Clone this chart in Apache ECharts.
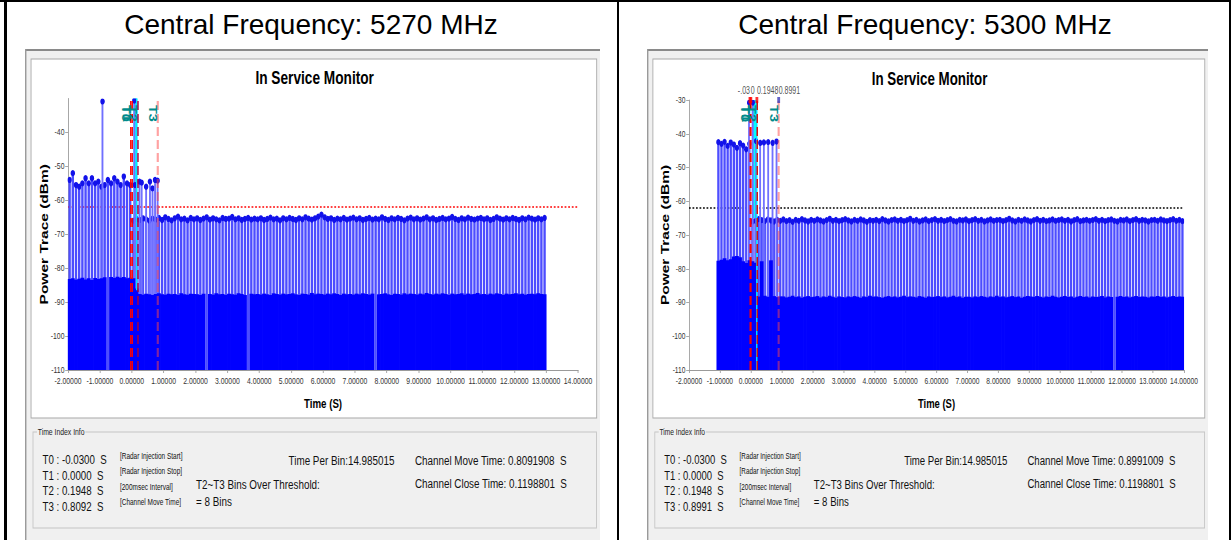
<!DOCTYPE html>
<html><head><meta charset="utf-8">
<script src="https://cdn.jsdelivr.net/npm/echarts@6/dist/echarts.min.js"></script>
<style>
html,body{margin:0;padding:0;background:#fff;}
#page{position:relative;width:1231px;height:540px;overflow:hidden;background:#fff;font-family:'Liberation Sans',Arial,sans-serif;}
.bk{position:absolute;background:#000;}
.hdr{position:absolute;top:11px;height:28px;line-height:28px;font-size:28px;text-align:center;color:#000;white-space:nowrap;}
.pwrap{position:absolute;top:49px;height:491px;overflow:hidden;}
.pc{position:absolute;left:0;top:0;width:799px;height:491px;transform-origin:0 0;}
</style></head><body>
<div id="page">
 <div class="bk" style="left:0;top:0;width:1231px;height:2px"></div>
 <div class="bk" style="left:4px;top:0;width:3px;height:540px"></div>
 <div class="bk" style="left:617px;top:0;width:2px;height:540px"></div>
 <div class="bk" style="left:1229px;top:0;width:2px;height:540px"></div>
 <div class="hdr" id="h1" style="left:4px;width:614px"></div>
 <div class="hdr" id="h2" style="left:619px;width:612px"></div>
 <div class="pwrap" style="left:25px;width:575px"><div class="pc" id="c1" style="transform:scaleX(0.71965)"></div></div>
 <div class="pwrap" style="left:647px;width:561px"><div class="pc" id="c2" style="transform:scaleX(0.70213)"></div></div>
</div>
<script>
// ---------------- texts ----------------
const panelTitles = ['Central Frequency: 5270 MHz', 'Central Frequency: 5300 MHz'];
const chartTitle = 'In Service Monitor';
const xAxisName = 'Time (S)';
const yAxisName = 'Power Trace (dBm)';
const groupTitle = 'Time Index Info';
const tNames = ['T0', 'T1', 'T2', 'T3'];
const tNotes = ['[Radar Injection Start]', '[Radar Injection Stop]', '[200msec Interval]', '[Channel Move Time]'];
const leftTRows = ['T0 : -0.0300  S', 'T1 : 0.0000  S', 'T2 : 0.1948  S', 'T3 : 0.8092  S'];
const rightTRows = ['T0 : -0.0300  S', 'T1 : 0.0000  S', 'T2 : 0.1948  S', 'T3 : 0.8991  S'];
const leftSummary = ['Time Per Bin:14.985015', 'Channel Move Time: 0.8091908  S', 'Channel Close Time: 0.1198801  S', 'T2~T3 Bins Over Threshold:', '= 8 Bins'];
const rightSummary = ['Time Per Bin:14.985015', 'Channel Move Time: 0.8991009  S', 'Channel Close Time: 0.1198801  S', 'T2~T3 Bins Over Threshold:', '= 8 Bins'];
const rightTopLabels = ['-.03', '0', '0.1948', '0.8991'];

// ---------------- axes ----------------
const xMin = -2, xMax = 14, xStep = 1;
const yMin = -110, yMax = -30, yStep = 10;
const binStep = 0.1;

// ---------------- left panel (5270 MHz) ----------------
const leftStart = -1.95;
const leftPeak = [
 -54, -52, -55.5, -56, -55, -53.5, -55, -53.5, -55, -54.5, -56, -55.5, -54, -55, -53.5, -54.5, -55.5, -53, -55, -55.5,
 -66.0, -65.5, -65.8, -65.3, -65.6, -66.0, -65.4, -65.7, -65.2, -65.8,
 -65.0, -65.5, -65.9, -65.3, -64.8, -65.6, -65.4, -65.9, -65.2, -65.6,
 -65.3, -65.8, -65.4, -65.0, -65.7, -65.3, -65.6, -65.9, -65.2, -65.5,
 -65.4, -64.9, -65.6, -65.3, -65.8, -65.5, -65.2, -65.7, -65.4, -65.6,
 -65.3, -65.8, -65.5, -65.1, -65.6, -65.4, -65.9, -65.3, -65.6, -65.2,
 -65.5, -65.8, -65.3, -65.6, -65.0, -65.4, -65.7, -65.3, -64.8, -64.2,
 -65.0, -65.5, -65.3, -65.8, -65.4, -65.6, -65.2, -65.7, -65.4, -65.1,
 -65.6, -65.3, -65.8, -65.5, -65.2, -65.7, -65.4, -65.6, -65.0, -65.5,
 -65.8, -65.3, -65.6, -65.2, -65.5, -65.9, -65.4, -65.1, -65.6, -65.3,
 -65.7, -65.4, -65.0, -65.6, -65.3, -65.8, -65.5, -65.2, -65.6, -65.4,
 -64.9, -65.5, -65.8, -65.3, -65.6, -65.1, -65.5, -65.7, -65.4, -65.2,
 -65.6, -65.3, -65.8, -65.5, -65.0, -65.4, -65.7, -65.3, -65.6, -65.2,
 -65.5, -65.8, -65.3, -65.6, -65.1, -65.4, -65.7, -65.3, -65.6, -65.2
];
const leftFloor = [
 -83.2, -83.0, -83.4, -83.1, -82.8, -83.3, -83.0, -83.5, -82.9, -83.2, -83.0, -82.7, null, -82.6, -82.9, -82.5, -82.8, -82.6, -83.0, -82.8,
 -83.0, -86.0, -87.6, -87.8, -87.5, -87.7, -87.9, -87.6, -87.4, -87.7,
 -87.8, -87.5, -87.7, -87.6, -87.9, -87.4, -87.7, -87.8, -87.5, -87.6,
 -87.7, -87.9, -87.5, null, -87.6, -87.8, -87.4, -87.7, -87.6, -87.9,
 -87.5, -87.7, -87.8, -87.4, -87.6, -87.9, null, -87.5, -87.7, -87.6,
 -87.8, -87.5, -87.7, -87.9, -87.4, -87.6, -87.8, -87.5, -87.7, -87.6,
 -87.4, -87.7, -87.9, -87.5, -87.6, -87.8, -87.3, -87.7, -87.5, -87.6,
 -87.8, -87.5, -87.7, -87.4, -87.6, -87.9, -87.5, -87.7, -87.6, -87.8,
 -87.5, -87.7, -87.4, -87.6, -87.8, -87.5, null, -87.7, -87.6, -87.4,
 -87.7, -87.9, -87.5, -87.6, -87.8, -87.4, -87.7, -87.5, -87.6, -87.8,
 -87.5, -87.7, -87.3, -87.6, -87.8, -87.5, -87.7, -87.4, -87.6, -87.9,
 -87.5, -87.7, -87.6, -87.4, -87.8, -87.5, -87.7, -87.6, -87.3, -87.7,
 -87.6, -87.8, -87.5, -87.7, -87.4, -87.6, -87.9, -87.5, -87.7, -87.6,
 -87.4, -87.7, -87.5, -87.8, -87.6, -87.5, -87.7, -87.4, -87.6, -87.7
];
const leftBurstT = [-0.92, 0.08, 0.10, 0.24, 0.31, 0.45, 0.57, 0.65, 0.73, 0.81];
const leftBurstV = [-30.6, -30.6, -55.5, -54.5, -54.8, -56, -54.5, -56.5, -54, -54.2];
const leftT = [-0.03, 0, 0.1948, 0.8092];
const leftThreshold = -62;
const leftBand = [0.05, 0.17, -65, -30];
const leftCyanLine = [[0.155, -30], [0.155, -86.5]];

// ---------------- right panel (5300 MHz) ----------------
const rightStart = -1.05;
const rightPeak = [
 -42.5, -43.0, -42.4, -43.6, -42.6, -43.2, -44.2, -42.8, -43.5, -44.6, -43.0,
 -66.0, -65.8, -65.3, -65.6, -65.9, -65.4, -65.7, -66.0, -65.5, -65.8,
 -65.4, -65.9, -65.6, -66.1, -65.5, -65.8, -65.3, -65.7, -66.0, -65.5,
 -65.8, -65.4, -65.7, -66.0, -65.6, -65.2, -65.8, -65.5, -65.9, -65.6,
 -65.3, -65.7, -66.0, -65.5, -65.8, -65.4, -65.7, -66.1, -65.6, -65.8,
 -65.5, -65.9, -65.3, -65.7, -66.0, -65.6, -65.4, -65.8, -65.5, -65.9,
 -65.6, -65.2, -65.8, -65.5, -66.0, -65.7, -65.4, -65.9, -65.6, -65.3,
 -65.8, -65.5, -65.9, -65.6, -65.3, -65.8, -66.0, -65.5, -65.7, -65.4,
 -65.9, -65.6, -65.3, -65.8, -65.5, -66.0, -65.7, -65.4, -65.8, -65.6,
 -65.5, -65.9, -65.6, -65.2, -65.7, -66.0, -65.5, -65.8, -65.4, -65.7,
 -66.0, -65.6, -65.3, -65.8, -65.5, -65.9, -65.7, -65.4, -65.8, -65.6,
 -65.4, -65.8, -65.5, -66.0, -65.6, -65.3, -65.9, -65.7, -65.5, -65.8,
 -65.6, -65.3, -65.8, -65.5, -65.9, -65.6, -65.4, -65.8, -66.0, -65.5,
 -65.7, -65.4, -65.9, -65.6, -65.3, -65.8, -65.5, -65.7, -66.0, -65.6,
 -65.5, -65.8, -65.4, -65.7, -65.9, -65.6, -65.3, -65.8, -65.5, -65.9
];
const rightFloor = [
 -77.6, -77.3, -76.9, -77.5, -77.2, -76.4, -76.2, -76.6, -77.8, -78.3, -77.5,
 -77.8, -78.2, -88.2, -77.8, -88.0, -88.3, -77.5, -88.1, -88.4, -88.2,
 -88.2, -88.5, -88.3, -88.0, -88.4, -88.2, -88.6, -88.3, -88.1, -88.4,
 -88.3, -88.1, -88.5, -88.2, -88.4, -88.0, -88.3, -88.6, -88.2, -88.4,
 -88.5, -88.2, -88.4, -88.1, -88.3, -88.6, -88.2, -88.4, -88.0, -88.3,
 -88.2, -88.4, -88.6, -88.3, -88.1, -88.4, -88.2, -88.5, -88.3, -88.0,
 -88.4, -88.2, -88.3, -88.5, -88.1, -88.3, -88.6, -88.2, -88.4, -88.3,
 -88.1, -88.4, -88.2, -88.5, -88.3, -88.0, -88.4, -88.2, -88.6, -88.3,
 -88.3, -88.5, -88.2, -88.4, -88.1, -88.3, -88.5, -88.2, -88.4, -88.0,
 -88.4, -88.2, -88.5, -88.3, -88.1, -88.4, -88.2, -88.6, -88.3, -88.1,
 -88.2, -88.4, -88.1, -88.3, -88.5, -88.2, -88.4, -88.0, -88.3, -88.5,
 -88.3, -88.1, -88.4, -88.2, -88.6, -88.3, -88.1, -88.4, -88.2, -88.5,
 -88.2, -88.4, -88.3, -88.1, -88.5, -88.2, -88.4, null, -88.3, -88.1,
 -88.4, -88.2, -88.5, -88.3, -88.1, -88.4, -88.2, -88.3, -88.5, -88.2,
 -88.3, -88.1, -88.4, -88.2, -88.5, -88.3, -88.1, -88.4, -88.2, -88.3
];
const rightBurstT = [-0.06, 0.06, 0.17, 0.30, 0.42, 0.56, 0.70, 0.83];
const rightBurstV = [-30.5, -30.5, -42.2, -42.4, -42.3, -42.5, -42.4, -42.3];
const rightT = [-0.03, 0, 0.1948, 0.8991];
const rightThreshold = -62;
const rightBand = [0.03, 0.19, -65, -30];
const rightCyanLine = [[0.19, -30], [0.19, -110]];

// ---------------- helpers ----------------
const FF = "'Liberation Sans', Arial, sans-serif";
const font = (sz, w) => (w || 'normal') + ' ' + sz + 'px ' + FF;
const sp = s => s.replace(/  /g, ' \u00a0');
function toPts(start, arr) {
  const out = [];
  arr.forEach((v, i) => { if (v !== null) out.push([+(start + i * binStep).toFixed(3), v]); });
  return out;
}
function stemRender(stroke, dot, lw) {
  return function (params, api) {
    const x = api.value(0), y = api.value(1);
    const top = api.coord([x, y]);
    const bot = api.coord([x, yMin]);
    return { type: 'group', children: [
      { type: 'line', shape: { x1: top[0], y1: bot[1], x2: top[0], y2: top[1] }, style: { stroke: stroke, lineWidth: lw } },
      { type: 'circle', shape: { cx: top[0], cy: top[1], r: 3.1 }, style: { fill: dot } }
    ] };
  };
}
function floorRender(params, api) {
  const t = api.value(0), v = api.value(1);
  const a = api.coord([t, v]), b = api.coord([t, yMin]);
  const w = api.size([binStep, 0])[0];
  return { type: 'rect', shape: { x: a[0] - w / 2 - 0.5, y: a[1], width: w + 1, height: b[1] - a[1] }, style: { fill: '#0000ff' } };
}
function bandRender(params, api) {
  const a = api.coord([api.value(0), api.value(3)]);
  const b = api.coord([api.value(1), api.value(2)]);
  return { type: 'rect', shape: { x: a[0], y: a[1], width: b[0] - a[0], height: b[1] - a[1] }, style: { fill: '#00ffff' } };
}
function tLabelRender(params, api) {
  const p = api.coord([api.value(0), api.value(1)]);
  return { type: 'text', x: p[0] - 8, y: p[1], rotation: -Math.PI / 2,
    style: { text: tNames[params.dataIndex], fill: '#008b8b', font: font(14.5, 'bold'), align: 'center', verticalAlign: 'middle' } };
}

function panelGraphic(rows, summary) {
  const g = [];
  g.push({ type: 'rect', z: -20, shape: { x: 0, y: 0, width: 799, height: 491 }, style: { fill: '#f0f0f0' } });
  g.push({ type: 'rect', z: -19, shape: { x: 0, y: 0, width: 799, height: 2 }, style: { fill: '#8a8a8a' } });
  g.push({ type: 'rect', z: -19, shape: { x: 0, y: 0, width: 2, height: 491 }, style: { fill: '#9a9a9a' } });
  g.push({ type: 'rect', z: -18, shape: { x: 8.4, y: 10, width: 786, height: 359 }, style: { fill: '#ffffff', stroke: '#a8a8a8', lineWidth: 1.2 } });
  g.push({ type: 'text', x: 402.5, y: 29, style: { text: chartTitle, font: font(19, 'bold'), fill: '#000', align: 'center', verticalAlign: 'middle' } });
  g.push({ type: 'rect', z: -17, shape: { x: 11.1, y: 383, width: 783, height: 96 }, style: { fill: 'none', stroke: '#c4c4c4', lineWidth: 1.2 } });
  g.push({ type: 'text', x: 16.7, y: 383, style: { text: groupTitle, font: font(9.5), fill: '#222', align: 'left', verticalAlign: 'middle', backgroundColor: '#f0f0f0', padding: [0, 1], lineHeight: 10 } });
  const rowY = [410, 425.5, 441, 456.5];
  const noteY = [407, 422.5, 438, 453.5];
  rows.forEach((r, i) => {
    g.push({ type: 'text', x: 24.4, y: rowY[i], style: { text: sp(r), font: font(13.5), fill: '#111', align: 'left', verticalAlign: 'middle', lineHeight: 14 } });
    g.push({ type: 'text', x: 131.9, y: noteY[i], style: { text: tNotes[i], font: font(9), fill: '#111', align: 'left', verticalAlign: 'middle', lineHeight: 10 } });
  });
  const S = (x, y, t, al) => ({ type: 'text', x: x, y: y, style: { text: sp(t), font: font(13.7), fill: '#111', align: al, verticalAlign: 'middle', lineHeight: 15 } });
  g.push(S(513.4, 411, summary[0], 'right'));
  g.push(S(541.8, 411, summary[1], 'left'));
  g.push(S(541.8, 434.5, summary[2], 'left'));
  g.push(S(237.6, 435, summary[3], 'left'));
  g.push(S(237.6, 452.5, summary[4], 'left'));
  return g;
}

function buildOption(c) {
  const dash = [9, 4];
  const tStyles = c.tStyles;
  const series = [
    { type: 'scatter', data: [[xMin, c.threshold]], symbolSize: 0, silent: true, z: 1,
      markLine: { silent: true, symbol: ['none', 'none'], z: 1, animation: false, label: { show: false },
        lineStyle: { color: c.thrColor, width: 1.5, type: [2.5, 2.5], opacity: 1 },
        data: [{ yAxis: c.threshold }] } },
    { type: 'custom', name: 'peak', renderItem: stemRender('#4d4dff', '#1212ea', 3.3), data: toPts(c.start, c.peak),
      encode: { x: 0, y: 1 }, clip: true, silent: true, z: 3 },
    { type: 'custom', name: 'band', renderItem: bandRender, data: [c.band], encode: { x: [0, 1], y: [2, 3] }, silent: true, z: 4 },
    { type: 'custom', name: 'burst', renderItem: stemRender('#7070ff', '#1212ea', 2.6), data: c.burstT.map((t, i) => [t, c.burstV[i]]),
      encode: { x: 0, y: 1 }, clip: true, silent: true, z: 5 },
    { type: 'custom', name: 'floor', renderItem: floorRender, data: toPts(c.start, c.floor), encode: { x: 0, y: 1 }, clip: true, silent: true, z: 6 },
    { type: 'line', data: c.cyanLine, symbol: 'none', silent: true, z: 7, lineStyle: { color: '#00e8ff', width: 2 } },
    { type: 'scatter', silent: true, z: 9,
      data: c.tVals.map((t, i) => ({ value: [t, yMax], label: { align: c.topAlign[i] }, itemStyle: { color: i === 3 ? '#3a3ab8' : '#ff0000' } })),
      symbol: 'rect', symbolSize: c.showTop ? [4, 6] : 0,
      label: { show: c.showTop, position: 'top', distance: 1, formatter: p => rightTopLabels[p.dataIndex], fontFamily: FF, fontSize: 10, color: '#222' },
      markLine: { silent: true, symbol: ['none', 'none'], z: 8, animation: false, label: { show: false },
        data: c.tVals.map((t, i) => ({ xAxis: t, lineStyle: Object.assign({ type: dash }, tStyles[i]) })) } },
    { type: 'custom', name: 'tlabels', renderItem: tLabelRender, data: c.tVals.map(t => [t, c.labelY]), encode: { x: 0, y: 1 }, silent: true, z: 10 }
  ];
  return {
    animation: false,
    grid: { left: 59.8, right: c.gridRight, top: c.gridTop, bottom: 170, containLabel: false, outerBoundsMode: 'none' },
    xAxis: { type: 'value', min: xMin, max: xMax, interval: xStep, name: xAxisName, nameLocation: 'middle', nameGap: 26, nameMoveOverlap: false,
      nameTextStyle: { fontFamily: FF, fontWeight: 'bold', fontSize: 13.5, color: '#000' },
      axisLine: { show: true, onZero: false, lineStyle: { color: '#9a9a9a', width: 1.2 } },
      axisTick: { show: true, length: 3, lineStyle: { color: '#9a9a9a' } },
      axisLabel: { formatter: v => v.toFixed(5), fontFamily: FF, fontSize: 9.5, color: '#333', margin: 6, hideOverlap: false },
      splitLine: { show: false } },
    yAxis: { type: 'value', min: yMin, max: yMax, interval: yStep, name: yAxisName, nameLocation: 'middle', nameRotate: 90, nameGap: 25, nameMoveOverlap: false,
      nameTextStyle: { fontFamily: FF, fontWeight: 'bold', fontSize: 15.5, color: '#000' },
      axisLine: { show: true, onZero: false, lineStyle: { color: '#9a9a9a', width: 1.2 } },
      axisTick: { show: true, length: 4, lineStyle: { color: '#9a9a9a' } },
      axisLabel: { showMaxLabel: c.showTopLabel, fontFamily: FF, fontSize: 9.5, color: '#333', margin: 5 },
      splitLine: { show: false } },
    graphic: { elements: panelGraphic(c.rows, c.summary) },
    series: series
  };
}

document.getElementById('h1').textContent = panelTitles[0];
document.getElementById('h2').textContent = panelTitles[1];

const leftCfg = {
  start: leftStart, peak: leftPeak, floor: leftFloor, burstT: leftBurstT, burstV: leftBurstV,
  tVals: leftT, threshold: leftThreshold, thrColor: '#ff0000', band: leftBand, cyanLine: leftCyanLine,
  gridRight: 30.5, gridTop: 49.5, showTop: false, showTopLabel: false, labelY: -34.4,
  topAlign: ['right', 'left', 'left', 'left'], rows: leftTRows, summary: leftSummary,
  tStyles: [{ color: '#ff0000', width: 2 }, { color: '#ff0000', width: 2 }, { color: '#a8003c', width: 2 }, { color: 'rgba(255,70,70,0.5)', width: 3 }]
};
const rightCfg = {
  start: rightStart, peak: rightPeak, floor: rightFloor, burstT: rightBurstT, burstV: rightBurstV,
  tVals: rightT, threshold: rightThreshold, thrColor: '#000000', band: rightBand, cyanLine: rightCyanLine,
  gridRight: 34.2, gridTop: 51, showTop: true, showTopLabel: true, labelY: -34,
  topAlign: ['right', 'left', 'left', 'left'], rows: rightTRows, summary: rightSummary,
  tStyles: [{ color: '#ff0000', width: 2 }, { color: '#ff0000', width: 2 }, { color: '#e00000', width: 2 }, { color: 'rgba(255,70,70,0.5)', width: 3 }]
};

const c1 = echarts.init(document.getElementById('c1'), null, { renderer: 'svg', width: 799, height: 491 });
c1.setOption(buildOption(leftCfg));
const c2 = echarts.init(document.getElementById('c2'), null, { renderer: 'svg', width: 799, height: 491 });
c2.setOption(buildOption(rightCfg));
</script>
</body></html>
